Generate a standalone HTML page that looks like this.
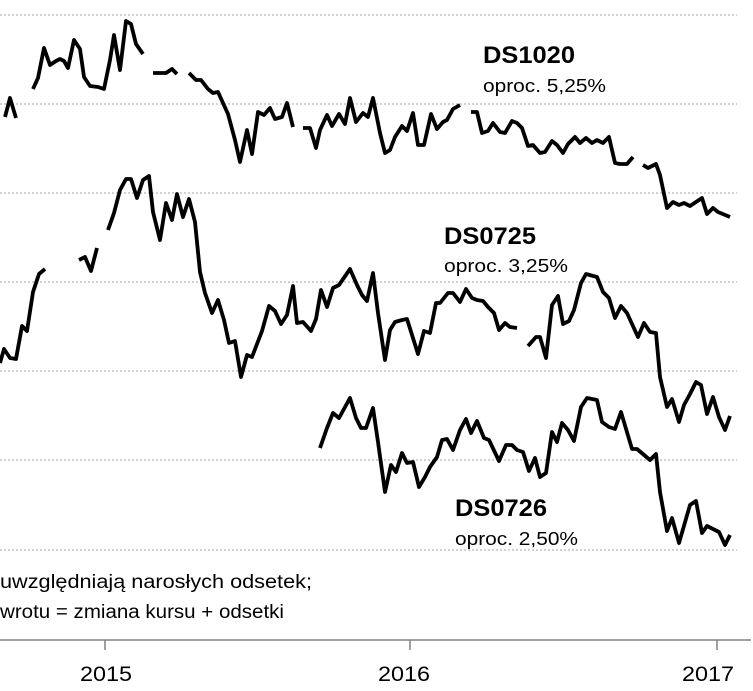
<!DOCTYPE html>
<html><head><meta charset="utf-8"><style>
html,body{margin:0;padding:0;background:#fff;}
svg{display:block;}
text{font-family:"Liberation Sans",sans-serif;fill:#000;}
</style></head><body>
<svg width="753" height="691" viewBox="0 0 753 691" xmlns="http://www.w3.org/2000/svg">
<g stroke="#a6a6a6" stroke-width="1" stroke-dasharray="2,2">
<line x1="0" y1="15" x2="737" y2="15"/><line x1="0" y1="104" x2="737" y2="104"/>
<line x1="0" y1="193" x2="737" y2="193"/><line x1="0" y1="282" x2="737" y2="282"/>
<line x1="0" y1="371" x2="737" y2="371"/><line x1="0" y1="460" x2="737" y2="460"/>
<line x1="0" y1="550" x2="737" y2="550"/>
</g>
<g stroke="#808080" stroke-width="1.5">
<line x1="0" y1="640" x2="751" y2="640"/>
<line x1="105" y1="640" x2="105" y2="650"/><line x1="410" y1="640" x2="410" y2="650"/><line x1="717" y1="640" x2="717" y2="650"/>
</g>
<g fill="none" stroke="#000" stroke-width="3.8" stroke-linejoin="round" stroke-linecap="butt">
<polyline points="5,117 10,98 16,118"/>
<polyline points="33,89 38,78 44,48 50,65 56,61 60,59 64,61 68,68 74,40 80,49 84,77 90,86 98,87 104,89 110,60 114,35 120,70 126,21 131,24 136,44 143,54"/>
<polyline points="153,73 166,73 172,69 177,74"/>
<polyline points="189,73 196,80 201,80 208,89 213,93 218,92 228,114 235,140 240,162 247,130 252,154 258,112 264,115 270,108 275,119 282,117 287,103 293,127"/>
<polyline points="303,128 310,128 316,148 320,130 327,115 332,126 339,114 345,124 350,98 356,122 363,113 368,117 373,98 380,133 385,153 390,150 395,137 402,126 407,131 413,113 418,145 424,145 431,114 437,129 443,122 447,120 453,109 460,105"/>
<polyline points="471,112 477,112 482,133 488,131 493,123 500,132 505,133 512,121 517,123 522,128 528,146 533,145 540,153 545,152 552,141 557,145 563,153 568,144 575,137 580,143 586,138 592,143 597,140 603,143 609,137 615,163 620,164 627,164 633,157"/>
<polyline points="643,165 648,168 656,164 660,175 667,208 673,202 679,205 684,203 690,206 702,198 707,214 713,208 718,212 730,217"/>
<polyline points="0,363 4,349 10,358 16,359 22,326 27,331 33,292 39,274 45,269"/>
<polyline points="79,260 85,257 91,271 97,248"/>
<polyline points="108,230 114,213 120,190 126,179 131,179 137,198 143,180 149,176 153,212 160,240 166,203 172,220 177,194 183,217 189,199 195,222 200,272 205,293 212,313 218,300 224,320 229,343 235,341 241,377 247,355 252,357 262,331 269,306 275,311 281,324 287,315 293,286 297,323 303,322 311,331 316,319 321,290 327,307 333,288 339,285 350,269 357,285 362,295 367,301 373,273 378,313 385,360 390,330 395,322 402,320 407,319 418,354 424,331 430,333 436,303 440,303 448,293 453,293 460,302 466,289 472,298 477,300 483,301 488,307 494,313 499,330 505,323 510,327 517,328"/>
<polyline points="528,346 536,337 540,337 546,358 552,305 558,296 563,324 569,321 574,310 581,283 586,274 597,277 603,292 609,298 615,318 621,306 627,313 638,337 644,323 650,332 656,333 660,377 667,407 672,399 679,422 684,405 690,394 696,382 701,385 707,414 713,397 719,417 725,430 730,416"/>
<polyline points="320,448 327,428 333,413 339,418 350,398 356,418 361,428 366,428 373,408 378,442 385,492 391,465 396,472 402,453 407,463 413,462 419,487 425,477 430,467 437,457 442,440 447,439 453,450 460,430 466,419 471,433 477,421 484,438 489,440 499,461 506,445 512,445 517,450 523,452 529,471 535,458 540,477 546,473 552,432 557,442 562,423 568,430 574,441 581,407 587,398 597,400 602,422 609,427 615,429 621,412 632,449 637,449 650,460 656,454 660,492 667,531 672,518 679,543 690,505 696,501 702,533 707,526 719,532 725,545 730,535"/>
</g>
<text x="483" y="63" font-size="24" font-weight="bold" textLength="92" lengthAdjust="spacingAndGlyphs">DS1020</text>
<text x="483" y="92" font-size="18" textLength="123" lengthAdjust="spacingAndGlyphs">oproc. 5,25%</text>
<text x="444" y="244" font-size="24" font-weight="bold" textLength="92" lengthAdjust="spacingAndGlyphs">DS0725</text>
<text x="444" y="272" font-size="18" textLength="124" lengthAdjust="spacingAndGlyphs">oproc. 3,25%</text>
<text x="455" y="516" font-size="24" font-weight="bold" textLength="92" lengthAdjust="spacingAndGlyphs">DS0726</text>
<text x="455" y="545" font-size="18" textLength="123" lengthAdjust="spacingAndGlyphs">oproc. 2,50%</text>
<text x="0" y="588" font-size="19" textLength="312" lengthAdjust="spacingAndGlyphs">uwzględniają narosłych odsetek;</text>
<text x="0" y="618" font-size="19" textLength="284" lengthAdjust="spacingAndGlyphs">wrotu = zmiana kursu + odsetki</text>
<text x="106" y="681" font-size="21" text-anchor="middle" textLength="52" lengthAdjust="spacingAndGlyphs">2015</text>
<text x="404" y="681" font-size="21" text-anchor="middle" textLength="52" lengthAdjust="spacingAndGlyphs">2016</text>
<text x="708" y="681" font-size="21" text-anchor="middle" textLength="52" lengthAdjust="spacingAndGlyphs">2017</text>
</svg>
</body></html>
